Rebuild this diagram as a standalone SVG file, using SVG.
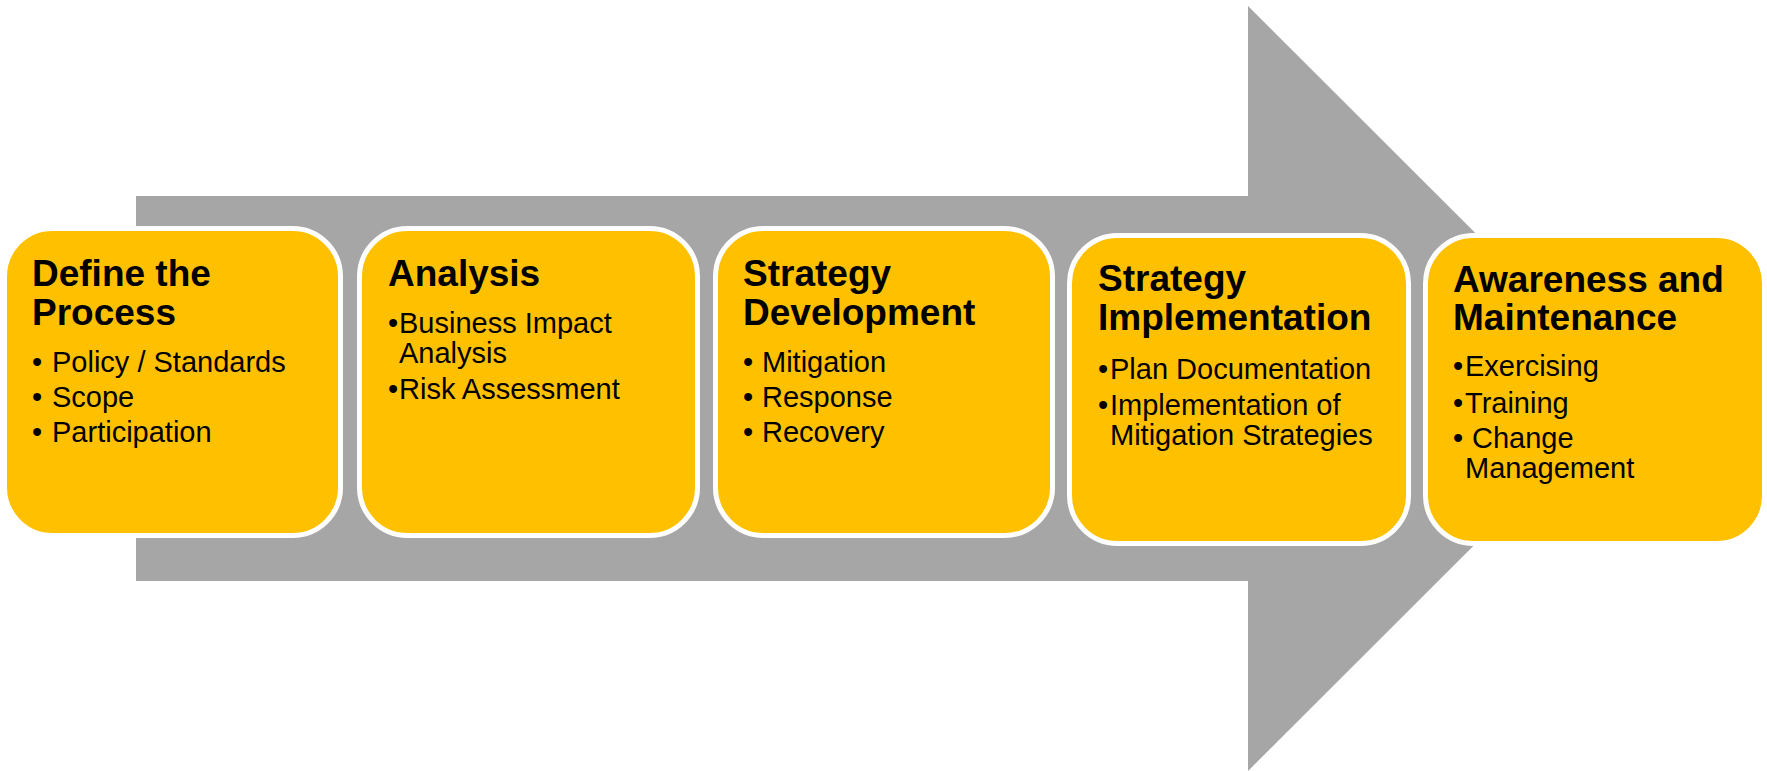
<svg xmlns="http://www.w3.org/2000/svg" width="1767" height="771" viewBox="0 0 1767 771">
  <style>
    .box { fill: #FFC000; stroke: #FFFFFF; stroke-width: 5; }
    .title { font-family: "Liberation Sans", Arial, sans-serif; font-weight: bold; font-size: 37px; fill: #000000; }
    .item { font-family: "Liberation Sans", Arial, sans-serif; font-size: 29px; fill: #000000; }
  </style>
  <rect width="1767" height="771" fill="#FFFFFF"/>

  <!-- background process arrow -->
  <g id="connectors">
    <path d="M136,196 H1248 V6 L1631,388.5 L1248,771 V581 H136 Z" fill="#A6A6A6"/>
  </g>

  <g id="define-process">
    <rect class="box" x="4.5" y="228.5" width="336" height="307" rx="48" ry="48"/>
    <text class="title" x="32" y="286">Define the</text>
    <text class="title" x="32" y="325">Process</text>
    <text class="item" x="32" y="372">•</text><text class="item" x="52" y="372">Policy / Standards</text>
    <text class="item" x="32" y="407">•</text><text class="item" x="52" y="407">Scope</text>
    <text class="item" x="32" y="442">•</text><text class="item" x="52" y="442">Participation</text>
  </g>

  <g id="analysis">
    <rect class="box" x="359.5" y="228.5" width="338" height="307" rx="48" ry="48"/>
    <text class="title" x="388" y="286">Analysis</text>
    <text class="item" x="388" y="333">•</text><text class="item" x="399" y="333">Business Impact</text>
    <text class="item" x="399" y="363">Analysis</text>
    <text class="item" x="388" y="399">•</text><text class="item" x="399" y="399">Risk Assessment</text>
  </g>

  <g id="strategy-development">
    <rect class="box" x="715.5" y="228.5" width="337" height="307" rx="48" ry="48"/>
    <text class="title" x="743" y="286">Strategy</text>
    <text class="title" x="743" y="325">Development</text>
    <text class="item" x="743" y="372">•</text><text class="item" x="762" y="372">Mitigation</text>
    <text class="item" x="743" y="407">•</text><text class="item" x="762" y="407">Response</text>
    <text class="item" x="743" y="442">•</text><text class="item" x="762" y="442">Recovery</text>
  </g>

  <g id="strategy-implementation">
    <rect class="box" x="1069.5" y="235.5" width="339" height="308" rx="48" ry="48"/>
    <text class="title" x="1098" y="291">Strategy</text>
    <text class="title" x="1098" y="330">Implementation</text>
    <text class="item" x="1098" y="379">•</text><text class="item" x="1110" y="379">Plan Documentation</text>
    <text class="item" x="1098" y="415">•</text><text class="item" x="1110" y="415">Implementation of</text>
    <text class="item" x="1110" y="445">Mitigation Strategies</text>
  </g>

  <g id="awareness-maintenance">
    <rect class="box" x="1425.5" y="235.5" width="339" height="308" rx="48" ry="48"/>
    <text class="title" x="1453" y="292">Awareness and</text>
    <text class="title" x="1453" y="330">Maintenance</text>
    <text class="item" x="1453" y="376">•</text><text class="item" x="1465" y="376">Exercising</text>
    <text class="item" x="1453" y="413">•</text><text class="item" x="1465" y="413">Training</text>
    <text class="item" x="1453" y="448">•</text><text class="item" x="1472" y="448">Change</text>
    <text class="item" x="1465" y="478">Management</text>
  </g>
</svg>
